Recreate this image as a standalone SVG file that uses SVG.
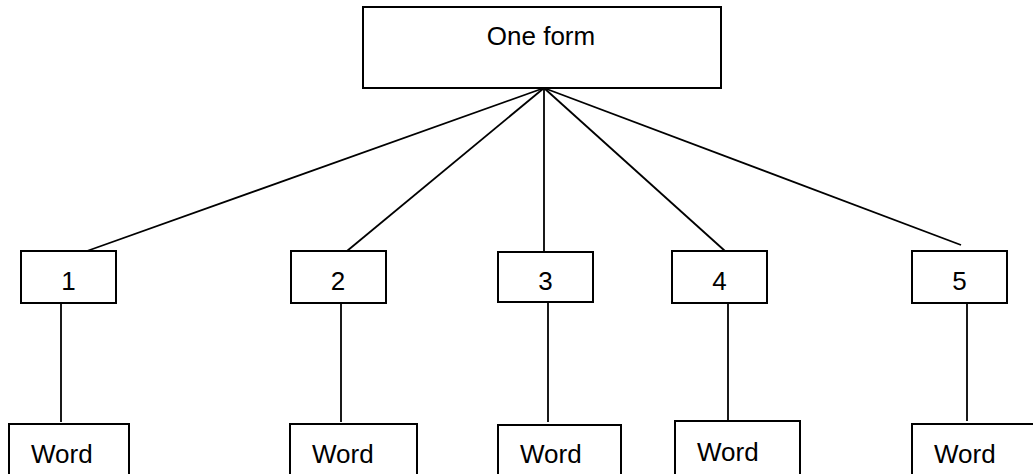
<svg xmlns="http://www.w3.org/2000/svg" width="1033" height="474" viewBox="0 0 1033 474">
<style>
.box{fill:#fff;stroke:#000;stroke-width:2}
.ln{stroke:#000;stroke-width:1.8;fill:none}
.t{font-family:"Liberation Sans",Arial,sans-serif;font-size:26px;fill:#000}
.c{text-anchor:middle}
</style>
<rect width="1033" height="474" fill="#fff"/>
<g id="connectors">
<line class="ln" x1="544" y1="88" x2="87" y2="251"/>
<line class="ln" x1="544" y1="88" x2="347" y2="251"/>
<line class="ln" x1="544" y1="88" x2="544" y2="252"/>
<line class="ln" x1="544" y1="88" x2="725" y2="251"/>
<line class="ln" x1="544" y1="88" x2="961" y2="245"/>
<line class="ln" x1="61" y1="303" x2="61" y2="422"/>
<line class="ln" x1="341" y1="303" x2="341" y2="422"/>
<line class="ln" x1="548" y1="302" x2="548" y2="422"/>
<line class="ln" x1="728" y1="303" x2="728" y2="421"/>
<line class="ln" x1="967" y1="303" x2="967" y2="421"/>
</g>
<g id="one-form"><rect class="box" x="363" y="7" width="358" height="81"/><text class="t c" x="541" y="45">One form</text></g>
<g id="n1"><rect class="box" x="21" y="251" width="95" height="52"/><text class="t c" x="68.5" y="290">1</text></g>
<g id="n2"><rect class="box" x="291" y="251" width="95" height="52"/><text class="t c" x="338" y="290">2</text></g>
<g id="n3"><rect class="box" x="498" y="252" width="95" height="50"/><text class="t c" x="545.5" y="290">3</text></g>
<g id="n4"><rect class="box" x="672" y="251" width="95" height="52"/><text class="t c" x="719.5" y="290">4</text></g>
<g id="n5"><rect class="box" x="912" y="251" width="95" height="52"/><text class="t c" x="959.5" y="290">5</text></g>
<g id="w1"><rect class="box" x="9" y="424" width="120" height="60"/><text class="t" x="31" y="463">Word</text></g>
<g id="w2"><rect class="box" x="290" y="424" width="127" height="60"/><text class="t" x="312" y="463">Word</text></g>
<g id="w3"><rect class="box" x="498" y="425" width="123" height="60"/><text class="t" x="520" y="463">Word</text></g>
<g id="w4"><rect class="box" x="675" y="421" width="125" height="60"/><text class="t" x="697" y="461">Word</text></g>
<g id="w5"><rect class="box" x="912" y="424" width="130" height="60"/><text class="t" x="934" y="463">Word</text></g>
</svg>
